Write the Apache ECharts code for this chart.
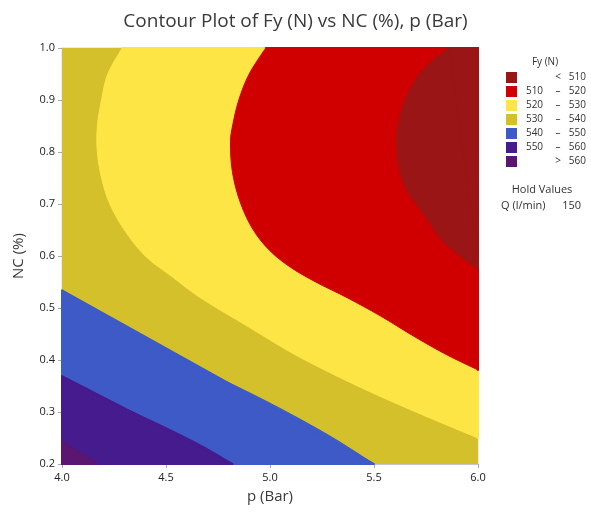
<!DOCTYPE html>
<html><head><meta charset="utf-8">
<script src="https://cdn.jsdelivr.net/npm/echarts@6/dist/echarts.min.js"></script>
<style>html,body{margin:0;padding:0;background:#fff}#c{width:591px;height:513px}</style>
</head><body><div id="c"></div>
<script>
// ---- data ----
const pRange = [4.0, 6.0];          // x axis (p, Bar)
const ncRange = [0.2, 1.0];         // y axis (NC, %)
const bandNames = ['< 510', '510 – 520', '520 – 530', '530 – 540', '540 – 550', '550 – 560', '> 560'];
// contour lines [p, NC]
const contour510 = [[5.86,1.0],[5.74,0.96],[5.66,0.91],[5.62,0.86],[5.61,0.82],[5.62,0.77],[5.66,0.725],[5.74,0.68],[5.84,0.625],[6.0,0.575]];
const contour520 = [[4.98,1.0],[4.90,0.95],[4.85,0.90],[4.82,0.85],[4.81,0.82],[4.82,0.76],[4.86,0.70],[4.92,0.65],[5.0,0.61],[5.10,0.578],[5.22,0.55],[5.37,0.52],[5.53,0.485],[5.69,0.446],[5.85,0.41],[6.0,0.381]];
const contour530 = [[4.29,1.0],[4.22,0.95],[4.19,0.90],[4.17,0.85],[4.17,0.80],[4.19,0.75],[4.23,0.70],[4.30,0.65],[4.40,0.60],[4.53,0.56],[4.66,0.521],[4.90,0.463],[5.14,0.406],[5.53,0.33],[6.0,0.25]];
const contour540 = [[4.0,0.534],[4.17,0.489],[4.34,0.449],[4.5,0.415],[4.67,0.381],[4.84,0.349],[5.0,0.317],[5.15,0.285],[5.3,0.251],[5.4,0.226],[5.5,0.2]];
const contour550 = [[4.0,0.369],[4.18,0.33],[4.34,0.30],[4.5,0.27],[4.65,0.24],[4.74,0.22],[4.82,0.2]];
const contour560 = [[4.0,0.243],[4.08,0.224],[4.17,0.2]];
const holdLabel = 'Q (l/min)';
const holdValue = '150';

// ---- styles ----
const bandColors = ['#9a1515', '#d10000', '#fde545', '#d4c02a', '#3d5ac6', '#461b8e', '#5a1670'];
const FONT = '"Open Sans", "Noto Sans", sans-serif';

function plotBox(api) {
  const a = api.coord([pRange[0], ncRange[1]]);
  const b = api.coord([pRange[1], ncRange[0]]);
  return [[Math.min(a[0], b[0]), Math.min(a[1], b[1])], [Math.max(a[0], b[0]), Math.max(a[1], b[1])]];
}
function curveRegion(name, color, curve, corner) {
  return {
    type: 'custom', name: name, coordinateSystem: 'cartesian2d',
    data: curve, encode: { x: 0, y: 1 }, itemStyle: { color: color }, silent: true,
    renderItem: function (params, api) {
      if (params.dataIndex !== 0) return null;
      const pts = curve.map(function (d) { return api.coord(d); });
      const c = api.coord(corner);
      return { type: 'group', children: [
        { type: 'polygon', shape: { points: [pts[0], pts[pts.length - 1], c] },
          style: { fill: color, stroke: color, lineWidth: 2, lineJoin: 'round' } },
        { type: 'polyline', shape: { points: pts, smooth: 0.35, smoothConstraint: plotBox(api) },
          style: { fill: color, stroke: color, lineWidth: 1 } }
      ]};
    }
  };
}
function baseRegion(name, color) {
  const corners = [[pRange[0], ncRange[0]], [pRange[1], ncRange[0]], [pRange[1], ncRange[1]], [pRange[0], ncRange[1]]];
  return {
    type: 'custom', name: name, coordinateSystem: 'cartesian2d',
    data: corners, encode: { x: 0, y: 1 }, itemStyle: { color: color }, silent: true,
    renderItem: function (params, api) {
      if (params.dataIndex !== 0) return null;
      return { type: 'polygon', shape: { points: corners.map(function (d) { return api.coord(d); }) },
        style: { fill: color } };
    }
  };
}
const topRight = [pRange[1], ncRange[1]];
const bottomLeft = [pRange[0], ncRange[0]];

const chart = echarts.init(document.getElementById('c'), null, { renderer: 'canvas' });
chart.setOption({
  animation: false,
  textStyle: { fontFamily: FONT },
  title: { text: 'Contour Plot of Fy (N) vs NC (%), p (Bar)', left: 'center', top: 7,
    textStyle: { fontFamily: FONT, fontSize: 19, fontWeight: 'normal', color: '#3a3a3a' } },
  grid: { left: 62, top: 48, width: 416, height: 416, show: true, borderColor: '#d8d4e0', borderWidth: 1 },
  xAxis: { type: 'value', min: pRange[0], max: pRange[1], interval: 0.5,
    name: 'p (Bar)', nameLocation: 'middle', nameGap: 25,
    nameTextStyle: { fontFamily: FONT, fontSize: 15, color: '#3a3a3a' },
    axisLine: { show: true, lineStyle: { color: '#c8c2d6' } },
    axisTick: { show: true, length: 4, lineStyle: { color: '#aaa' } },
    axisLabel: { fontFamily: FONT, fontSize: 11, color: '#222', margin: 8,
      formatter: function (v) { return v.toFixed(1); } },
    splitLine: { show: false } },
  yAxis: { type: 'value', min: ncRange[0], max: ncRange[1], interval: 0.1,
    name: 'NC (%)', nameLocation: 'middle', nameGap: 36,
    nameTextStyle: { fontFamily: FONT, fontSize: 15, color: '#3a3a3a' },
    axisLine: { show: true, lineStyle: { color: '#c8c2d6' } },
    axisTick: { show: true, length: 4, lineStyle: { color: '#aaa' } },
    axisLabel: { fontFamily: FONT, fontSize: 11, color: '#222', margin: 7,
      formatter: function (v) { return v.toFixed(1); } },
    splitLine: { show: false } },
  legend: {
    orient: 'vertical', left: 501, top: 67, icon: 'rect', itemWidth: 11, itemHeight: 11, itemGap: 3,
    selectedMode: false, data: bandNames,
    formatter: function (n) {
      const parts = n.split(' ');
      if (parts.length === 2) return '{a| }{b|' + parts[0] + '}{c|' + parts[1] + '}';
      return '{a|' + parts[0] + '}{b|' + parts[1] + '}{c|' + parts[2] + '}';
    },
    textStyle: { fontFamily: FONT, fontSize: 10, color: '#333',
      rich: { a: { width: 25, align: 'right', fontSize: 10, color: '#333' },
              b: { width: 22, align: 'center', fontSize: 10, color: '#333' },
              c: { width: 17, align: 'right', fontSize: 10, color: '#333' } } }
  },
  graphic: [
    { type: 'text', x: 545, y: 62, style: { text: 'Fy (N)', font: '10px ' + FONT, fill: '#333', align: 'center', verticalAlign: 'middle' } },
    { type: 'text', x: 542, y: 190, style: { text: 'Hold Values', font: '11px ' + FONT, fill: '#333', align: 'center', verticalAlign: 'middle' } },
    { type: 'text', x: 501, y: 206, style: { text: holdLabel, font: '11px ' + FONT, fill: '#333', align: 'left', verticalAlign: 'middle' } },
    { type: 'text', x: 581, y: 206, style: { text: holdValue, font: '11px ' + FONT, fill: '#333', align: 'right', verticalAlign: 'middle' } }
  ],
  series: [
    baseRegion(bandNames[3], bandColors[3]),
    curveRegion(bandNames[2], bandColors[2], contour530, topRight),
    curveRegion(bandNames[1], bandColors[1], contour520, topRight),
    curveRegion(bandNames[0], bandColors[0], contour510, topRight),
    curveRegion(bandNames[4], bandColors[4], contour540, bottomLeft),
    curveRegion(bandNames[5], bandColors[5], contour550, bottomLeft),
    curveRegion(bandNames[6], bandColors[6], contour560, bottomLeft)
  ]
});
</script></body></html>
